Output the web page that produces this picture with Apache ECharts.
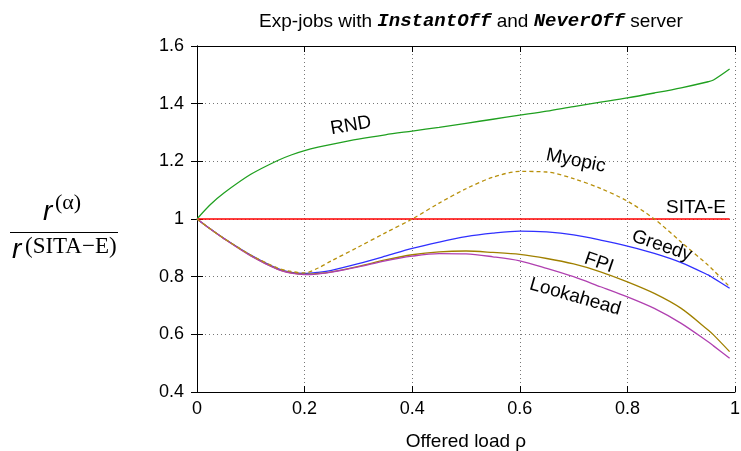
<!DOCTYPE html>
<html><head><meta charset="utf-8">
<script src="https://cdn.jsdelivr.net/npm/echarts@6/dist/echarts.min.js"></script>
<style>html,body{margin:0;padding:0;background:#fff}#c{width:741px;height:451px}</style>
</head><body><div id="c"></div>
<script>
const rho =       [0,    0.025,0.05, 0.1,  0.15, 0.175,0.2,  0.225,0.25, 0.3,  0.35, 0.4,  0.45, 0.5,  0.55, 0.6,  0.65, 0.7,  0.75, 0.8,  0.85, 0.9,  0.95, 0.96, 0.99];
const rnd =       [1.0,  1.05, 1.09, 1.155,1.203,1.222,1.237,1.249,1.259,1.277,1.292,1.305,1.318,1.332,1.346,1.36, 1.374,1.39, 1.405,1.42, 1.437,1.455,1.476,1.482,1.52];
const sitaE =     [1,    1,    1,    1,    1,    1,    1,    1,    1,    1,    1,    1,    1,    1,    1,    1,    1,    1,    1,    1,    1,    1,    1,    1,    1];
const myopic =    [1.0,  0.965,0.933,0.875,0.83, 0.818,0.813,0.83, 0.855,0.903,0.952,1.0,  1.055,1.105,1.145,1.165,1.163,1.14, 1.106,1.062,1.0,  0.92, 0.84, 0.822,0.765];
const greedy =    [1.0,  0.965,0.933,0.875,0.828,0.815,0.811,0.815,0.822,0.845,0.871,0.898,0.92, 0.939,0.951,0.958,0.955,0.945,0.927,0.906,0.881,0.849,0.806,0.795,0.76];
const fpi =       [1.0,  0.965,0.932,0.873,0.826,0.813,0.808,0.811,0.817,0.836,0.858,0.876,0.886,0.889,0.884,0.877,0.863,0.844,0.817,0.782,0.742,0.69, 0.615,0.598,0.54];
const lookahead = [1.0,  0.965,0.932,0.872,0.825,0.812,0.807,0.81, 0.816,0.834,0.855,0.871,0.88, 0.879,0.869,0.855,0.829,0.80, 0.765,0.73, 0.69, 0.638,0.574,0.56, 0.517];
const labels = [
  {t:'RND', x:0.286, y:1.324, r:0.17},
  {t:'Myopic', x:0.704, y:1.202, r:-0.2},
  {t:'SITA-E', x:0.9275, y:1.039, r:0},
  {t:'Greedy', x:0.864, y:0.907, r:-0.33},
  {t:'FPI', x:0.747, y:0.848, r:-0.33},
  {t:'Lookahead', x:0.703, y:0.730, r:-0.28}
];
const pair = a => rho.map((x,i)=>[x,a[i]]);
const chart = echarts.init(document.getElementById('c'));
const ff = '"Liberation Sans", Arial, sans-serif';
const tickCommon = {show:true, inside:true, length:6, lineStyle:{color:'#000'}};
function mkSeries(name, data, color, dashed){
  return {name, type:'line', data:pair(data), showSymbol:false, smooth:0.3,
    lineStyle:{color, width:1.3, type: dashed ? [4,3] : 'solid'}, z: dashed?3:2, animation:false};
}
chart.setOption({
  animation:false,
  title:{text:'{a|Exp-jobs with }{b|InstantOff}{a| and }{b|NeverOff}{a| server}', left:466, top:7, textAlign:'center',
    textStyle:{fontWeight:'normal', rich:{a:{fontFamily:ff,fontSize:19,fontWeight:'normal',color:'#000'},b:{fontFamily:'"Liberation Mono","DejaVu Sans Mono",monospace',fontSize:19,fontWeight:'bold',fontStyle:'italic',color:'#000'}}}},
  grid:{left:197, right:6, top:46, bottom:59, containLabel:false, outerBoundsMode:'none'},
  xAxis:[{type:'value', min:0, max:1, interval:0.2,
    axisLine:{show:true,lineStyle:{color:'#000',width:1}}, axisTick:tickCommon,
    axisLabel:{fontFamily:ff,fontSize:18,color:'#000',margin:8, formatter:v=>String(+v.toFixed(1))},
    splitLine:{show:true,lineStyle:{color:'#777',type:[1,3],width:1}},
    name:'Offered load ρ', nameLocation:'middle', nameGap:40, nameTextStyle:{fontFamily:ff,fontSize:19,color:'#000'}},
   {type:'value', position:'top', min:0, max:1, interval:0.2, axisLine:{show:true,lineStyle:{color:'#000'}}, axisTick:tickCommon, axisLabel:{show:false}, splitLine:{show:false}}],
  yAxis:[{type:'value', min:0.4, max:1.6, interval:0.2,
    axisLine:{show:true,lineStyle:{color:'#000',width:1}}, axisTick:tickCommon,
    axisLabel:{fontFamily:ff,fontSize:18,color:'#000',margin:13, formatter:v=>String(+v.toFixed(1))},
    splitLine:{show:true,lineStyle:{color:'#777',type:[1,3],width:1}}},
   {type:'value', position:'right', min:0.4, max:1.6, interval:0.2, axisLine:{show:true,lineStyle:{color:'#000'}}, axisTick:tickCommon, axisLabel:{show:false}, splitLine:{show:false}}],
  series:[
    mkSeries('RND', rnd, '#20a020'),
    mkSeries('SITA-E', sitaE, '#ff0000'),
    mkSeries('Greedy', greedy, '#3030ff'),
    mkSeries('FPI', fpi, '#a08000'),
    mkSeries('Lookahead', lookahead, '#b040b0'),
    mkSeries('Myopic', myopic, '#b8900c', true)
  ]
});
const g = [];
labels.forEach(l=>{
  const p = chart.convertToPixel({xAxisIndex:0,yAxisIndex:0},[l.x,l.y]);
  g.push({type:'text', x:p[0], y:p[1], rotation:l.r, style:{text:l.t, fontFamily:ff, fontSize:19, fill:'#000', align:'center', verticalAlign:'middle'}, z:10});
});
const serif = '"Liberation Serif","DejaVu Serif",serif';
g.push({type:'text', x:43, y:212, style:{text:'r', fontFamily:ff, fontStyle:'italic', fontSize:28, fill:'#000', verticalAlign:'middle'}});
g.push({type:'text', x:55, y:203, style:{text:'(α)', fontFamily:serif, fontSize:22, fill:'#000', verticalAlign:'middle'}});
g.push({type:'rect', shape:{x:10,y:232,width:108,height:1}, style:{fill:'#000'}});
g.push({type:'text', x:12, y:250, style:{text:'r', fontFamily:ff, fontStyle:'italic', fontSize:28, fill:'#000', verticalAlign:'middle'}});
g.push({type:'text', x:25, y:247, style:{text:'(SITA−E)', fontFamily:serif, fontSize:23, fill:'#000', verticalAlign:'middle'}});
chart.setOption({graphic:g});
</script></body></html>
